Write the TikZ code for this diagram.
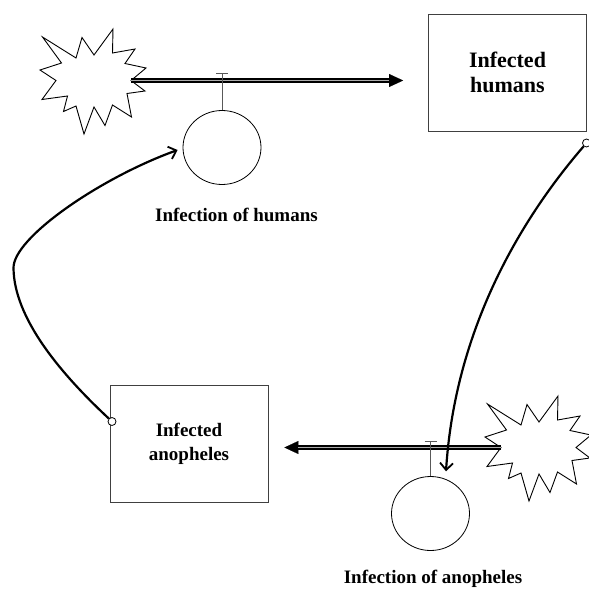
\documentclass[tikz,border=0pt]{standalone}
\usepackage{fontspec}
\setmainfont{Liberation Serif}
\usetikzlibrary{arrows.meta,shapes.geometric,calc}

\tikzset{
  stock/.style={draw=black!75, line width=0.8pt, minimum width=158pt,
    minimum height=117pt, inner sep=0pt, align=center},
  rate/.style={draw, ellipse, line width=0.8pt, minimum width=78pt,
    minimum height=74pt, inner sep=0pt},
  cloud/.style={draw, line width=0.9pt, fill=white, line join=miter},
  pipe/.style={line width=5.4pt,
    -{Triangle[length=14pt,width=13pt,line width=0.1pt]}},
  pipecore/.style={gray!65, line width=0.9pt},
  stem/.style={draw=black!65, line width=0.8pt},
  link/.style={line width=2.2pt,
    -{Straight Barb[length=7pt,width=13pt,line width=1.8pt]}},
  dot/.style={circle, draw, fill=white, line width=0.8pt, minimum size=8pt,
    inner sep=0pt},
  ratelabel/.style={font=\bfseries\fontsize{19}{23}\selectfont, anchor=base}
}

% source cloud outline, placed with a shift
\newcommand\sourcecloud[1]{%
  \draw[cloud, shift={#1}]
    (42.5,37) -- (76,58) -- (82,37.5) -- (94,55) -- (113,29) -- (112.5,53)
    -- (135,49) -- (125,63.5) -- (146,68) -- (131,80.5) -- (145,91)
    -- (127,93.5) -- (131.5,117) -- (112.5,105) -- (105,125.5) -- (94,107)
    -- (84,134) -- (76,106) -- (63.5,111.5) -- (67.5,96) -- (42,99.5)
    -- (56,80.5) -- (40,70) -- (61.5,63) -- cycle;}

\begin{document}
\begin{tikzpicture}[x=1pt,y=-1pt]
\useasboundingbox (0,0) rectangle (589,592);

% clouds
\sourcecloud{(0,0)}
\sourcecloud{(445,367)}
\coordinate (s1out) at (131,80.5);
\coordinate (s2out) at (501,447.5);

% stocks
\node[stock, font=\bfseries\fontsize{22}{25}\selectfont] (IH) at (507.5,72.5)
  {Infected\\humans};
\node[stock, font=\bfseries\fontsize{19}{24}\selectfont] (IA) at (189,443.5)
  {Infected\\anopheles};

% rate circles
\node[rate] (vh) at (222,147.5) {};
\node[rate] (va) at (430.5,513.5) {};

% flow pipes
\coordinate (p1end) at ($(s1out -| IH.west)+(-25,0)$);
\coordinate (p2end) at ($(s2out -| IA.east)+(16,0)$);
\draw[pipe] (s1out) -- (p1end);
\draw[pipecore] (s1out) -- ($(p1end)+(-14,0)$);
\draw[pipe] (s2out) -- (p2end);
\draw[pipecore] (s2out) -- ($(p2end)+(14,0)$);

% valves
\draw[stem] (vh.north) -- ++(0,-36.5) coordinate (vhT);
\draw[stem] ($(vhT)+(-6,0)$) -- ($(vhT)+(6,0)$);
\draw[stem] (va.north) -- ++(0,-35) coordinate (vaT);
\draw[stem] ($(vaT)+(-6,0)$) -- ($(vaT)+(6,0)$);

% rate labels
\node[ratelabel] (lh) at (236.5,221.5) {Infection of humans};
\node[ratelabel] (la) at (433,583) {Infection of anopheles};

% information links
\node[dot] (d1) at (586.5,143) {};
\node[dot] (d2) at (112,421.5) {};
\draw[link] (d1) .. controls (520,220) and (455,330) .. ($(va.north)+(15.5,-4.8)$);
\draw[link] (d2) .. controls (60,373) and (14,318) .. (13.5,268)
  .. controls (13,238) and (100,178) .. ($(vh.west)+(-5,2.5)$);
\end{tikzpicture}
\end{document}
